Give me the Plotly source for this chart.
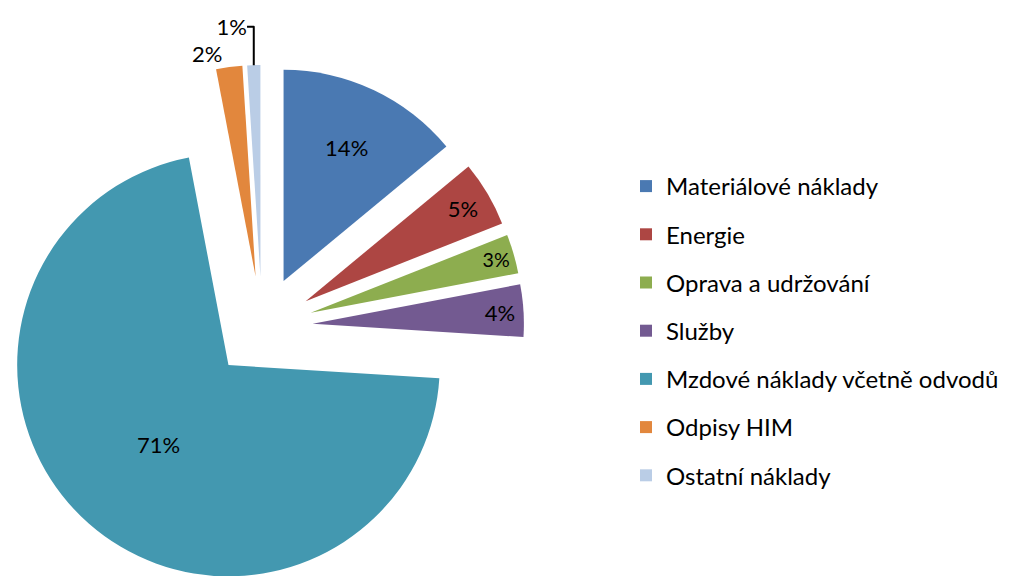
import plotly.graph_objects as go

categories = ["Materiálové náklady", "Energie", "Oprava a udržování", "Služby",
              "Mzdové náklady včetně odvodů", "Odpisy HIM", "Ostatní náklady"]
values = [14, 5, 3, 4, 71, 2, 1]
colors = ["#4A79B2", "#AD4643", "#8DAD4F", "#735A91", "#4398B0", "#E2873D", "#BACDE6"]
text_positions = ["inside", "inside", "inside", "inside", "inside", "outside", "outside"]

W, H = 1012, 600
FONT = "Lato"

fig = go.Figure()
fig.add_trace(go.Pie(
    labels=categories,
    values=values,
    sort=False,
    direction="clockwise",
    rotation=0,
    pull=[0.24] * len(values),
    marker=dict(colors=colors, line=dict(width=0)),
    textinfo="percent",
    textposition=text_positions,
    insidetextorientation="horizontal",
    textfont=dict(family=FONT, size=22, color="black"),
    domain=dict(x=[0, 524 / W], y=[1 - 589 / H, 1 - 65 / H]),
    hoverinfo="label+percent",
))
# invisible helper entry so each slice gets its own legend group (spacing)
fig.add_trace(go.Scatter(x=[None], y=[None], mode="markers",
                         marker=dict(color="rgba(0,0,0,0)", size=1),
                         legendgroup="pad", name=" ", showlegend=True, hoverinfo="skip"))

fig.update_layout(
    width=W, height=H,
    margin=dict(l=0, r=0, t=0, b=0, autoexpand=False),
    paper_bgcolor="white", plot_bgcolor="white",
    font=dict(family=FONT, size=22, color="black"),
    xaxis=dict(visible=False), yaxis=dict(visible=False),
    legend=dict(
        x=626 / W, xanchor="left",
        y=1 - 164 / H, yanchor="top",
        traceorder="grouped", tracegroupgap=14,
        font=dict(family=FONT, size=24, color="black"),
        bgcolor="rgba(0,0,0,0)",
    ),
)

fig.write_html("out.html", config={"displayModeBar": False},
               post_script="document.body.style.margin='0';document.body.style.overflow='hidden';")
